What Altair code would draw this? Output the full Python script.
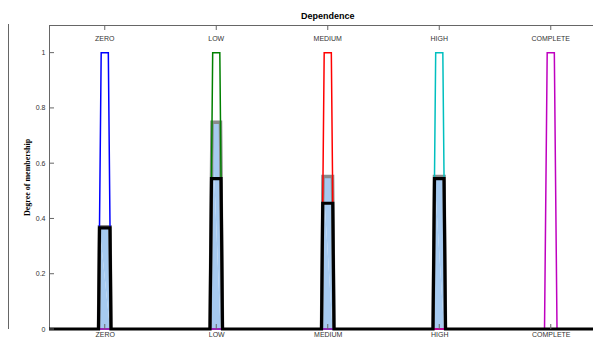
import altair as alt
import pandas as pd

# ---- data ----
names = ["ZERO", "LOW", "MEDIUM", "HIGH", "COMPLETE"]
centers = [0.0, 0.25, 0.5, 0.75, 1.0]
mf_colors = ["#0000ff", "#008000", "#ff0000", "#00bfbf", "#bf00bf"]
mf_base_half = [0.014, 0.014, 0.014, 0.014, 0.014]   # trapezoid half-width at 0
mf_top_half = [0.008, 0.008, 0.008, 0.008, 0.008]    # trapezoid half-width at 1
gray_height = [0.37, 0.748, 0.552, 0.552, 0.0]       # implied (clipped) sets
black_height = [0.366, 0.544, 0.455, 0.544, 0.0]     # aggregated output
y_ticks = [0, 0.2, 0.4, 0.6, 0.8, 1.0]
x_min, x_max = -0.125, 1.0947

def clip_pts(c, bh, th, h):
    return [(c - bh, 0.0), (c - bh + (bh - th) * h, h),
            (c + bh - (bh - th) * h, h), (c + bh, 0.0)]

mf_rows = []
for i, (n, c, col, bh, th) in enumerate(zip(names, centers, mf_colors, mf_base_half, mf_top_half)):
    pts = [(x_min, 0.0)] + clip_pts(c, bh, th, 1.0) + [(x_max, 0.0)]
    for k, (x, y) in enumerate(pts):
        mf_rows.append({"cat": f"{i}_{n}", "color": col, "x": x, "y": y, "o": k})
mf_df = pd.DataFrame(mf_rows)

clip_rows = []
for i, (n, c, bh, th, h) in enumerate(zip(names, centers, mf_base_half, mf_top_half, gray_height)):
    if h <= 0:
        continue
    for k, (x, y) in enumerate(clip_pts(c, bh, th, h)):
        clip_rows.append({"cat": f"{i}_{n}", "x": x, "y": y, "o": k})
clip_df = pd.DataFrame(clip_rows)

agg_pts = [(x_min, 0.0)]
for c, bh, th, h in zip(centers, mf_base_half, mf_top_half, black_height):
    if h > 0:
        agg_pts += clip_pts(c, bh, th, h)
agg_pts.append((x_max, 0.0))
agg_df = pd.DataFrame([{"x": x, "y": y, "o": k} for k, (x, y) in enumerate(agg_pts)])

lab_df = pd.DataFrame({"x": centers, "name": names})
ytick_df = pd.DataFrame({"y": y_ticks})
title_df = pd.DataFrame({"x": [0.5], "t": ["Dependence"]})

W, H = 544, 304
xs = alt.Scale(domain=[x_min, x_max], nice=False, zero=False)
ys = alt.Scale(domain=[0, 1.1], nice=False)

label_expr = ("datum.value == 0 ? 'ZERO' : datum.value == 0.25 ? 'LOW' : "
              "datum.value == 0.5 ? 'MEDIUM' : datum.value == 0.75 ? 'HIGH' : 'COMPLETE'")

x_axis = alt.Axis(values=centers, labelExpr=label_expr, ticks=False, domain=False, grid=False,
                  labelFontSize=7, labelColor="#333333", labelPadding=1, labelFont="Liberation Sans",
                  title=None)
y_axis = alt.Axis(values=y_ticks, format="~g", ticks=False, domain=True, domainColor="#666666",
                  grid=False, labelFontSize=7, labelColor="#333333", labelPadding=4,
                  labelFont="Liberation Sans", title="Degree of membership",
                  titleFont="Liberation Serif", titleFontWeight="bold", titleFontSize=8,
                  titleColor="#000000", titlePadding=4)

fill = alt.Chart(clip_df).mark_area(color="#a6caf0", opacity=1).encode(
    x=alt.X("x:Q", scale=xs, axis=x_axis),
    y=alt.Y("y:Q", scale=ys, axis=y_axis),
    detail="cat:N", order="o:Q")

gray = alt.Chart(clip_df).mark_line(color="#8a8a8a", strokeWidth=3.5).encode(
    x=alt.X("x:Q", scale=xs), y=alt.Y("y:Q", scale=ys), detail="cat:N", order="o:Q")

mfs = alt.Chart(mf_df).mark_line(strokeWidth=1.5).encode(
    x=alt.X("x:Q", scale=xs), y=alt.Y("y:Q", scale=ys),
    color=alt.Color("color:N", scale=None), detail="cat:N", order="o:Q")

black = alt.Chart(agg_df).mark_line(color="#000000", strokeWidth=3.2).encode(
    x=alt.X("x:Q", scale=xs), y=alt.Y("y:Q", scale=ys), order="o:Q")

top_line = alt.Chart(lab_df).mark_rule(color="#666666", strokeWidth=1).encode(
    x=alt.value(0), x2=alt.value(W), y=alt.value(0.5))

left_strip = alt.Chart(lab_df).mark_rule(color="#666666", strokeWidth=1).encode(
    x=alt.value(-40.5), y=alt.value(-1), y2=alt.value(H))

yticks = alt.Chart(ytick_df).mark_rule(color="#666666", strokeWidth=1).encode(
    y=alt.Y("y:Q", scale=ys), x=alt.value(0), x2=alt.value(5))

top_ticks = alt.Chart(lab_df).mark_rule(color="#666666", strokeWidth=1).encode(
    x=alt.X("x:Q", scale=xs), y=alt.value(0), y2=alt.value(5))

bot_ticks = alt.Chart(lab_df).mark_rule(color="#666666", strokeWidth=1).encode(
    x=alt.X("x:Q", scale=xs), y=alt.value(H - 5), y2=alt.value(H))

top_labels = alt.Chart(lab_df).mark_text(fontSize=7, color="#333333", font="Liberation Sans",
                                         baseline="middle", align="center").encode(
    x=alt.X("x:Q", scale=xs), y=alt.value(13.5), text="name:N")

title = alt.Chart(title_df).mark_text(fontSize=9, fontWeight="bold", color="#000000",
                                      font="Liberation Sans", baseline="middle",
                                      align="center").encode(
    x=alt.X("x:Q", scale=xs), y=alt.value(-9), text="t:N")

chart = alt.layer(fill, gray, mfs, black, top_line, left_strip, yticks, top_ticks, bot_ticks,
                  top_labels, title).properties(
    width=W, height=H,
    autosize=alt.AutoSizeParams(type="none"),
    padding={"left": 41, "top": 17, "right": 0, "bottom": 8},
).configure_view(stroke=None).configure(background="#ffffff")

chart.save("out.html", embed_options={"renderer": "svg", "actions": False})
